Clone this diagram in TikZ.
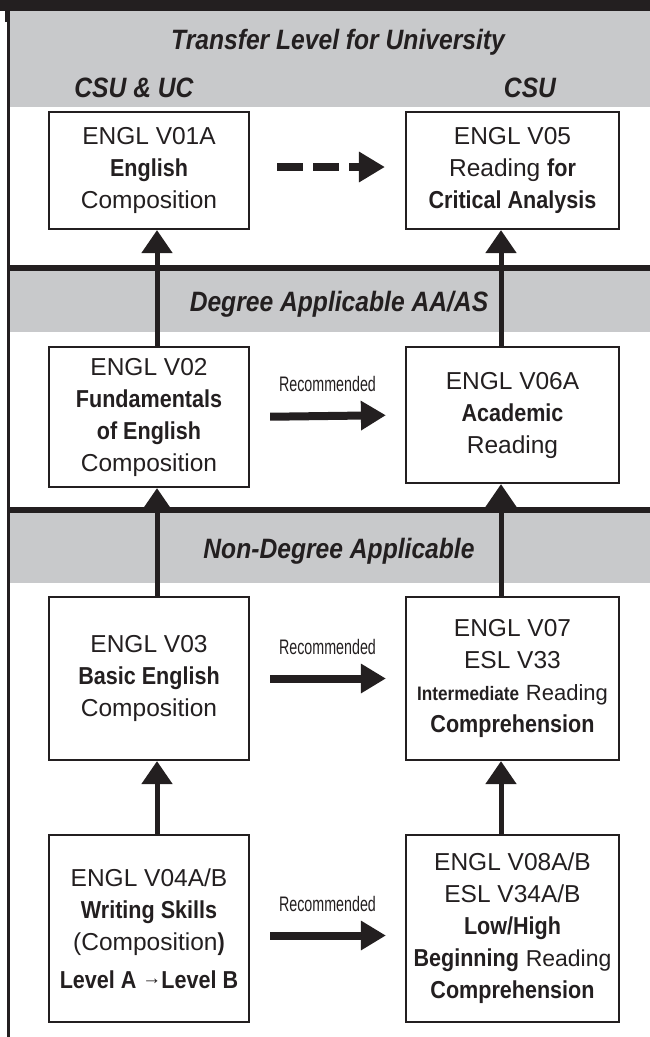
\documentclass[tikz,border=0pt]{standalone}
\usepackage{fontspec}
\setmainfont{Liberation Sans}
\newfontfamily\condfont{Liberation Sans}[FakeStretch=0.88]
\newfontfamily\narrowfont{Liberation Sans}[FakeStretch=0.68]
\usetikzlibrary{arrows.meta}
\definecolor{inkblack}{RGB}{35,31,32}
\definecolor{bandgray}{RGB}{200,201,203}
\newcommand{\bt}[1]{{\condfont\bfseries #1}}
\tikzset{
  course/.style={draw=inkblack, line width=2.2pt, fill=white, align=center, inner sep=0pt,
    text=inkblack, font=\fontsize{24.5}{32}\selectfont},
  leftcourse/.style={course, minimum width=200pt},
  rightcourse/.style={course, minimum width=213pt},
  divider/.style={draw=inkblack, line width=5.5pt},
  heading/.style={text=inkblack, inner sep=0pt, anchor=base,
    font=\condfont\bfseries\itshape\fontsize{28}{28}\selectfont},
  uparrow/.style={draw=inkblack, line width=5pt, -{Triangle[width=30pt,length=23pt]}},
  recarrow/.style={draw=inkblack, line width=8pt, -{Triangle[width=28pt,length=25pt]},
    shorten <=20pt, shorten >=19pt},
  reclabel/.style={text=inkblack, inner sep=0pt, font=\narrowfont\fontsize{21}{21}\selectfont}
}
\begin{document}
\begin{tikzpicture}[x=1pt, y=-1pt]
\useasboundingbox (0,0) rectangle (650,1037);
\fill[inkblack] (0,0) rectangle (650,11);
\fill[bandgray] (8.5,11) rectangle (650,107);
\fill[bandgray] (8.5,271) rectangle (650,332);
\fill[bandgray] (8.5,513) rectangle (650,583);
\draw[inkblack, line width=2.5pt] (8.5,0) -- (8.5,1037);
\fill[inkblack] (5,11) rectangle (8.5,22);
\foreach \y in {268,510}
	\draw[divider] (8.5,\y) -- (650,\y);

\node[heading] (transfer) at (338,49) {Transfer Level for University};
\node[heading] (csuuc) at (134,97) {CSU \& UC};
\node[heading] (csu) at (530,97) {CSU};
\node[heading] (degree) at (339,311) {Degree Applicable AA/AS};
\node[heading] (nondegree) at (339,558) {Non-Degree Applicable};

\node[leftcourse, minimum height=117pt] (v01a) at (149,170.5)
	{ENGL V01A\\ \bt{English}\\ Composition};
\node[rightcourse, minimum height=117pt] (v05) at (512.5,170.5)
	{ENGL V05\\ Reading \bt{for}\\ \bt{Critical Analysis}};
\node[leftcourse, minimum height=140pt] (v02) at (149,417)
	{ENGL V02\\ \bt{Fundamentals}\\ \bt{of English}\\ Composition};
\node[rightcourse, minimum height=136pt] (v06a) at (512.5,415)
	{ENGL V06A\\ \bt{Academic}\\ Reading};
\node[leftcourse, minimum height=163pt] (v03) at (149,678.5)
	{ENGL V03\\ \bt{Basic English}\\ Composition};
\node[rightcourse, minimum height=163pt] (v07) at (512.5,678.5)
	{ENGL V07\\ ESL V33\\ {\fontsize{19.5}{32}\selectfont\bt{Intermediate}} {\fontsize{22}{32}\selectfont Reading}\\ \bt{Comprehension}};
\node[leftcourse, minimum height=187pt] (v04) at (149,928.5)
	{ENGL V04A/B\\ \bt{Writing Skills}\\ (Composition\bt{)}\\[6pt] \bt{Level A \raisebox{4pt}{\normalfont\fontsize{19}{19}\selectfont →}Level B}};
\node[rightcourse, minimum height=187pt] (v08) at (512.5,928.5)
	{ENGL V08A/B\\ ESL V34A/B\\ \bt{Low/High}\\ \bt{Beginning} {\fontsize{23}{32}\selectfont Reading}\\ \bt{Comprehension}};

\coordinate (lcol) at (157,0);
\coordinate (rcol) at (501,0);
\foreach \lo/\hi/\col in {v02/v01a/lcol, v06a/v05/rcol, v03/v02/lcol, v07/v06a/rcol, v04/v03/lcol, v08/v07/rcol}
	\draw[uparrow] (\lo.north -| \col) -- (\hi.south -| \col);

\draw[draw=inkblack, line width=8pt, dash pattern=on 26pt off 10pt,
	-{Triangle[width=29pt,length=26pt]}, shorten <=27pt, shorten >=20pt]
	([yshift=3.5pt]v01a.east) -- ([yshift=3.5pt]v05.west);
\foreach \a/\b/\s in {v02/v06a/0pt, v03/v07/0pt, v04/v08/-7pt}
	\draw[recarrow] ([yshift=\s]\a.east) -- ([yshift=\s]\b.west)
		node[reclabel, midway, above=20pt] {Recommended};
\end{tikzpicture}
\end{document}
